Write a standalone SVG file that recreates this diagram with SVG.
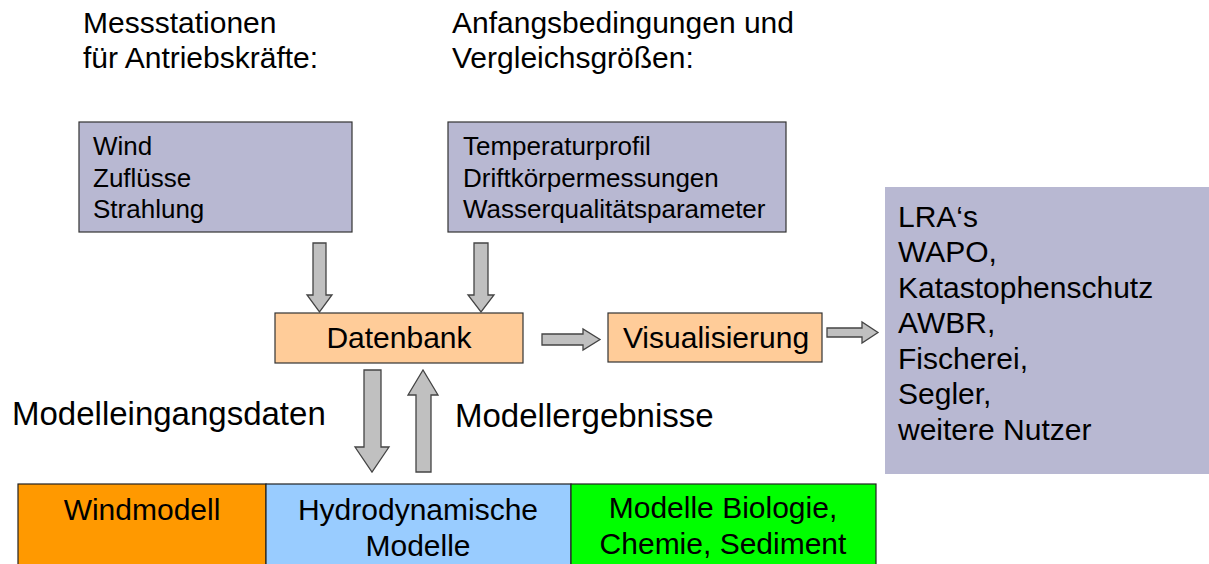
<svg xmlns="http://www.w3.org/2000/svg" width="1209" height="564" viewBox="0 0 1209 564">
<style>
text{font-family:"Liberation Sans",Arial,sans-serif;fill:#000}
.t30{font-size:30px}
.t26{font-size:26px}
.t33{font-size:33px}
.box{fill:#B8B8D2;stroke:#333;stroke-width:1.2}
.org{fill:#FFCC99;stroke:#333;stroke-width:1.2}
.arr{fill:#C0C0C0;stroke:#444;stroke-width:1.3;stroke-linejoin:miter}
.mid{text-anchor:middle}
</style>
<rect width="1209" height="564" fill="#fff"/>
<g id="label-messstationen">
<text class="t30" x="83" y="33">Messstationen</text>
<text class="t30" x="83" y="68">für Antriebskräfte:</text>
</g>
<g id="label-anfangsbedingungen">
<text class="t30" x="452" y="33">Anfangsbedingungen und</text>
<text class="t30" x="452" y="68">Vergleichsgrößen:</text>
</g>
<g id="node-antrieb">
<rect class="box" x="79" y="122" width="273" height="110"/>
<text class="t26" x="93" y="155">Wind</text>
<text class="t26" x="93" y="187">Zuflüsse</text>
<text class="t26" x="93" y="218">Strahlung</text>
</g>
<g id="node-anfang">
<rect class="box" x="448" y="122" width="338" height="110"/>
<text class="t26" x="463" y="155">Temperaturprofil</text>
<text class="t26" x="463" y="187">Driftkörpermessungen</text>
<text class="t26" x="463" y="218">Wasserqualitätsparameter</text>
</g>
<g id="node-datenbank">
<rect class="org" x="275" y="313" width="248" height="50"/>
<text class="t30 mid" x="399" y="348">Datenbank</text>
</g>
<g id="node-visualisierung">
<rect class="org" x="608" y="313" width="214" height="49"/>
<text class="t30 mid" x="716" y="348">Visualisierung</text>
</g>
<g id="node-nutzer">
<rect x="885" y="187" width="324" height="287" fill="#B8B8D2"/>
<text class="t30" x="898" y="227">LRA‘s</text>
<text class="t30" x="898" y="262">WAPO,</text>
<text class="t30" x="898" y="298">Katastophenschutz</text>
<text class="t30" x="898" y="333">AWBR,</text>
<text class="t30" x="898" y="369">Fischerei,</text>
<text class="t30" x="898" y="404">Segler,</text>
<text class="t30" x="898" y="440">weitere Nutzer</text>
</g>
<g id="label-modelleingangsdaten">
<text class="t33" x="12" y="425">Modelleingangsdaten</text>
</g>
<g id="label-modellergebnisse">
<text class="t33" x="455" y="427">Modellergebnisse</text>
</g>
<g id="node-windmodell">
<rect x="18" y="484" width="248" height="90" fill="#FF9900" stroke="#222" stroke-width="1.2"/>
<text class="t30 mid" x="142" y="520">Windmodell</text>
</g>
<g id="node-hydro">
<rect x="266" y="484" width="305" height="90" fill="#99CCFF" stroke="#222" stroke-width="1.2"/>
<text class="t30 mid" x="418" y="520">Hydrodynamische</text>
<text class="t30 mid" x="418" y="556">Modelle</text>
</g>
<g id="node-bio">
<rect x="571" y="484" width="305" height="90" fill="#00FF00" stroke="#222" stroke-width="1.2"/>
<text class="t30 mid" x="723" y="518">Modelle Biologie,</text>
<text class="t30 mid" x="723" y="554">Chemie, Sediment</text>
</g>
<g id="connectors">
<path class="arr" d="M313,243 H326 V295 H332 L319.5,312 L307,295 H313 Z"/>
<path class="arr" d="M474,243 H488 V295 H494 L481,312 L468,295 H474 Z"/>
<path class="arr" d="M542,334 H583 V329 L600,339.5 L583,350 V345 H542 Z"/>
<path class="arr" d="M827,328 H862 V322 L878,332.5 L862,343 V337 H827 Z"/>
<path class="arr" d="M364,370 H381 V447 H389 L372,472 L355,447 H364 Z"/>
<path class="arr" d="M416,472 H431 V395 H438 L423,370 L408,395 H416 Z"/>
</g>
</svg>
